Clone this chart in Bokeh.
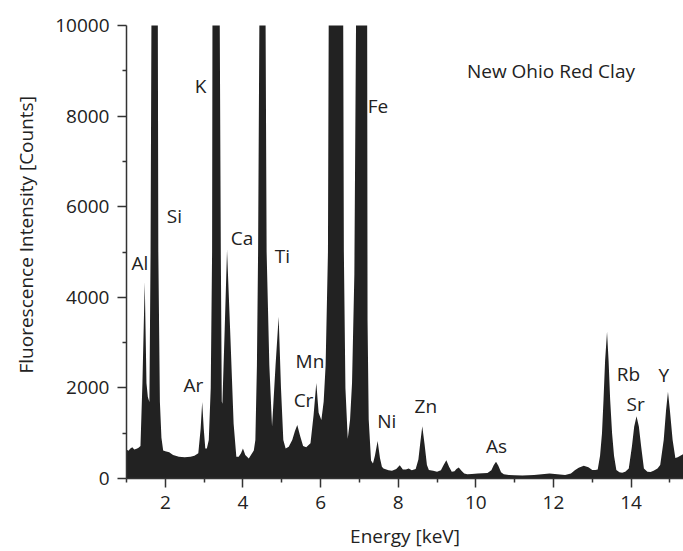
from bokeh.plotting import figure
from bokeh.models import Range1d, FixedTicker, Label, ColumnDataSource, LabelSet, Title
from bokeh.core.properties import value
from bokeh.embed import file_html
from bokeh.resources import INLINE

# ---- spectrum ----
energy_kev = [
    1.00, 1.05, 1.10, 1.15, 1.20, 1.26, 1.31, 1.36, 1.41, 1.47, 1.515, 1.55, 1.59,
    1.62, 1.644, 1.725, 1.806, 1.82, 1.86, 1.90, 1.945,
    2.00, 2.10, 2.20, 2.35, 2.50, 2.65, 2.75, 2.85, 2.91, 2.95, 2.99, 3.03, 3.07,
    3.12, 3.17, 3.205, 3.215, 3.31, 3.40, 3.43, 3.455, 3.47, 3.53, 3.59, 3.68, 3.76,
    3.83, 3.89, 3.95, 4.00, 4.06, 4.15, 4.28, 4.32, 4.36, 4.39, 4.426, 4.50, 4.581,
    4.61, 4.68, 4.75, 4.84, 4.92, 4.98, 5.04, 5.10, 5.18, 5.27, 5.34, 5.40, 5.47,
    5.55, 5.63, 5.74, 5.82, 5.89, 5.95, 6.02, 6.08, 6.13, 6.19, 6.211, 6.40, 6.582,
    6.60, 6.64, 6.70, 6.76, 6.81, 6.87, 6.917, 7.06, 7.20, 7.21, 7.24, 7.30, 7.35,
    7.40, 7.47, 7.53, 7.58, 7.62, 7.75, 7.84, 7.95, 8.04, 8.12, 8.20, 8.27, 8.35,
    8.45, 8.52, 8.57, 8.62, 8.68, 8.74, 8.79, 8.90, 9.00, 9.10, 9.17, 9.24, 9.31,
    9.38, 9.45, 9.50, 9.56, 9.63, 9.70, 9.78, 9.90, 10.05, 10.30, 10.40, 10.46,
    10.52, 10.58, 10.65, 10.72, 10.85, 11.00, 11.20, 11.50, 11.70, 11.90, 12.10,
    12.30, 12.45, 12.55, 12.65, 12.78, 12.90, 13.00, 13.08, 13.14, 13.20, 13.25,
    13.29, 13.33, 13.38, 13.42, 13.46, 13.51, 13.56, 13.62, 13.70, 13.77, 13.85,
    13.94, 14.02, 14.08, 14.14, 14.20, 14.26, 14.33, 14.42, 14.50, 14.58, 14.68,
    14.75, 14.84, 14.90, 14.95, 15.00, 15.07, 15.14, 15.20, 15.28, 15.35,
]
counts = [
    640, 615, 660, 690, 640, 655, 680, 720, 2100, 4340, 2100, 1800, 1690,
    5000, 10500, 30000, 10500, 5000, 1700, 900, 620,
    600, 580, 520, 480, 470, 480, 500, 560, 1100, 1690, 1100, 660, 660,
    850, 2000, 5000, 10500, 40000, 10500, 5000, 1700, 1650, 3300, 5050, 3050, 1210,
    480, 480, 560, 660, 520, 440, 620, 850, 2500, 5000, 10500, 30000, 10500,
    5000, 2500, 1150, 2500, 3570, 2000, 850, 660, 700, 850, 1050, 1180, 950,
    720, 690, 780, 1400, 2110, 1450, 1290, 1700, 2500, 5000, 10500, 60000, 10500,
    5000, 2000, 880, 1300, 2100, 4500, 10500, 30000, 10500, 3500, 1300, 400, 330,
    500, 830, 450, 260, 220, 180, 170, 210, 290, 200, 200, 220, 180,
    210, 420, 800, 1155, 750, 300, 185, 170, 150, 180, 300, 405, 260,
    150, 160, 210, 245, 170, 110, 95, 100, 110, 120, 180, 290,
    368, 280, 140, 95, 75, 70, 65, 75, 95, 110, 95,
    80, 110, 180, 240, 280, 250, 190, 190, 200, 500, 1000,
    1750, 2600, 3240, 2600, 1750, 1000, 500, 190, 140, 125, 150,
    220, 700, 1150, 1375, 1150, 700, 220, 150, 145, 170, 220,
    300, 850, 1500, 1915, 1500, 850, 450, 470, 510, 540,
]

# ---- element labels ----
element_names = ["Al", "Si", "K", "Ar", "Ca", "Ti", "Mn", "Cr", "Fe",
                 "Ni", "Zn", "As", "Rb", "Sr", "Y"]
element_energy = [1.345, 2.236, 2.906, 2.726, 3.975, 5.019, 5.727, 5.56, 7.479,
                  7.705, 8.713, 10.531, 13.931, 14.115, 14.84]
element_counts = [4610, 5644, 8501, 1912, 5151, 4747, 2429, 1581, 8059,
                  1104, 1448, 552, 2155, 1493, 2133]

sample_name = "New Ohio Red Clay"
sample_pos = (11.935, 8993)

x_ticks = [2, 4, 6, 8, 10, 12, 14]
x_minor_ticks = [1, 3, 5, 7, 9, 11, 13, 15]
y_ticks = [0, 2000, 4000, 6000, 8000, 10000]
y_minor_ticks = [1000, 3000, 5000, 7000, 9000]

FONT = "Open Sans"
TXT = "#222222"
AX = "#333333"

p = figure(width=683, height=551, output_backend="svg", toolbar_location=None,
           x_range=Range1d(1, 15.35), y_range=Range1d(0, 10000),
           min_border_left=126, min_border_right=0, min_border_top=25,
           min_border_bottom=73)
p.outline_line_color = None
p.xgrid.visible = False
p.ygrid.visible = False
p.background_fill_color = "white"
p.border_fill_color = "white"

p.varea(x=energy_kev, y1=0, y2=counts, fill_color="#222222")

for ax in (p.xaxis[0], p.yaxis[0]):
    ax.axis_line_color = AX
    ax.axis_line_width = 1.5
    ax.major_tick_line_color = AX
    ax.minor_tick_line_color = AX
    ax.major_tick_line_width = 1.5
    ax.minor_tick_line_width = 1.5
    ax.major_tick_in = 0
    ax.major_tick_out = 9
    ax.minor_tick_in = 0
    ax.minor_tick_out = 4
    ax.major_label_text_font = FONT
    ax.major_label_text_font_size = "19px"
    ax.major_label_text_color = TXT

p.xaxis.ticker = FixedTicker(ticks=x_ticks, minor_ticks=x_minor_ticks)
p.yaxis.ticker = FixedTicker(ticks=y_ticks, minor_ticks=y_minor_ticks)
p.xaxis.major_label_standoff = 8
p.yaxis.major_label_standoff = 8

p.xaxis.axis_label = "Energy [keV]"
p.xaxis.axis_label_text_font = FONT
p.xaxis.axis_label_text_font_size = "19px"
p.xaxis.axis_label_text_font_style = "normal"
p.xaxis.axis_label_text_color = TXT
p.xaxis.axis_label_standoff = 11

ytitle = Title(text="Fluorescence Intensity [Counts]", align="left", offset=105,
               standoff=24, vertical_align="top", text_font=FONT,
               text_font_size="19px", text_font_style="normal", text_color=TXT)
p.add_layout(ytitle, "left")

src = ColumnDataSource(dict(x=element_energy, y=element_counts, t=element_names))
p.add_layout(LabelSet(x="x", y="y", text="t", source=src, text_align="center",
                      text_baseline="alphabetic", text_font=value(FONT),
                      text_font_size="19px", text_color=TXT))

p.add_layout(Label(x=sample_pos[0], y=sample_pos[1], text=sample_name,
                   text_align="center", text_baseline="alphabetic", text_font=FONT,
                   text_font_size="19px", text_color=TXT))

open("out.html", "w").write(file_html(p, INLINE))
